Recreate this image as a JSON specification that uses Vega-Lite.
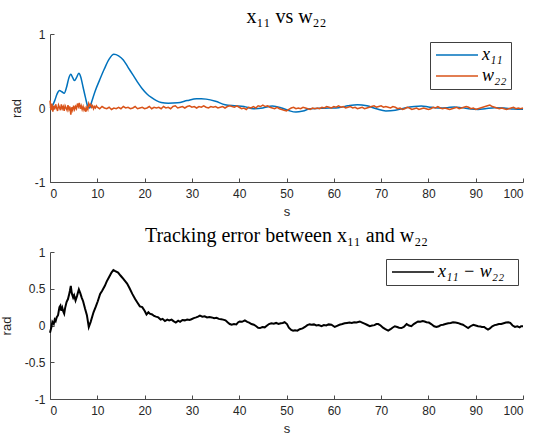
{
  "$schema": "https://vega.github.io/schema/vega-lite/v6.json",
  "background": "white",
  "padding": {"left": 0, "top": 7, "right": 5, "bottom": 0},
  "spacing": 8,
  "config": {
    "view": {"stroke": null},
    "axis": {
      "grid": false,
      "domainColor": "#4a4a4a",
      "domainWidth": 1,
      "tickColor": "#4a4a4a",
      "tickSize": -4,
      "labelColor": "#262626",
      "labelFont": "Liberation Sans",
      "labelFontSize": 12,
      "titleFont": "Liberation Sans",
      "titleFontSize": 13,
      "titleFontWeight": "normal",
      "titleColor": "#262626"
    },
    "axisX": {"labelPadding": 10, "titlePadding": 6},
    "axisY": {"labelPadding": 9, "titlePadding": 11},
    "title": {"font": "Liberation Serif", "fontSize": 20, "fontWeight": "normal", "color": "#000000"},
    "legend": {
      "orient": "none",
      "strokeColor": "#404040",
      "fillColor": "white",
      "padding": 4,
      "symbolType": "M-3,0H3",
      "symbolSize": 196,
      "symbolOffset": 14,
      "labelOffset": 16,
      "symbolStrokeWidth": 1.5,
      "labelFont": "Liberation Serif",
      "labelFontStyle": "italic",
      "labelFontSize": 18,
      "labelColor": "#000000",
      "rowPadding": 3,
      "title": null
    }
  },
  "datasets": {
    "x11": [
      {"t":0,"v":0},{"t":0.5,"v":0.03},{"t":1,"v":0.1},{"t":1.5,"v":0.19},{"t":2,"v":0.235},{"t":2.5,"v":0.22},{"t":3,"v":0.2},{"t":3.5,"v":0.28},{"t":4,"v":0.41},{"t":4.4,"v":0.455},{"t":4.8,"v":0.41},{"t":5.2,"v":0.37},{"t":5.6,"v":0.41},{"t":6.1,"v":0.47},{"t":6.5,"v":0.42},{"t":7,"v":0.28},{"t":7.5,"v":0.14},{"t":8,"v":0.02},{"t":8.4,"v":0.0},{"t":8.8,"v":0.08},{"t":9.5,"v":0.22},{"t":10.5,"v":0.38},{"t":11.5,"v":0.53},{"t":12.5,"v":0.66},{"t":13.5,"v":0.725},{"t":14.5,"v":0.705},{"t":15.5,"v":0.65},{"t":16.5,"v":0.55},{"t":17.5,"v":0.45},{"t":18.5,"v":0.35},{"t":19.5,"v":0.26},{"t":20.5,"v":0.19},{"t":21.5,"v":0.14},{"t":22.5,"v":0.1},{"t":23.5,"v":0.075},{"t":25,"v":0.065},{"t":27,"v":0.07},{"t":29,"v":0.1},{"t":31,"v":0.125},{"t":32,"v":0.126},{"t":33,"v":0.12},{"t":35,"v":0.09},{"t":37,"v":0.045},{"t":39,"v":0.03},{"t":41,"v":0.02},{"t":43,"v":-0.01},{"t":45,"v":0.0},{"t":47,"v":0.027},{"t":49,"v":0.0},{"t":50.5,"v":-0.035},{"t":52,"v":-0.055},{"t":53.5,"v":-0.04},{"t":55,"v":-0.01},{"t":57,"v":-0.005},{"t":59,"v":0.0},{"t":61,"v":0.005},{"t":63,"v":0.03},{"t":65,"v":0.045},{"t":67,"v":0.03},{"t":69,"v":-0.01},{"t":71,"v":-0.04},{"t":73,"v":-0.03},{"t":75,"v":0.0},{"t":77,"v":0.02},{"t":78.5,"v":0.027},{"t":80,"v":0.015},{"t":82,"v":0.0},{"t":84,"v":0.005},{"t":85.5,"v":0.015},{"t":87,"v":0.005},{"t":89,"v":-0.015},{"t":90.5,"v":-0.02},{"t":92,"v":-0.01},{"t":94,"v":0.005},{"t":96,"v":0.0},{"t":98,"v":-0.015},{"t":100,"v":-0.018}
    ],
    "w22": [
      {"t":0,"v":0.1},{"t":0.2,"v":-0.03},{"t":0.4,"v":0.06},{"t":0.6,"v":-0.05},{"t":0.8,"v":0.03},{"t":1,"v":-0.02},{"t":1.2,"v":0.05},{"t":1.4,"v":0.0},{"t":1.6,"v":-0.04},{"t":1.8,"v":0.04},{"t":2,"v":0.01},{"t":2.2,"v":-0.03},{"t":2.4,"v":0.05},{"t":2.6,"v":-0.01},{"t":2.8,"v":0.02},{"t":3,"v":-0.04},{"t":3.2,"v":0.03},{"t":3.4,"v":0.0},{"t":3.6,"v":-0.03},{"t":3.8,"v":0.04},{"t":4,"v":-0.02},{"t":4.2,"v":0.02},{"t":4.4,"v":-0.09},{"t":4.6,"v":0.01},{"t":4.8,"v":-0.03},{"t":5,"v":0.03},{"t":5.2,"v":-0.02},{"t":5.4,"v":0.02},{"t":5.6,"v":-0.01},{"t":5.8,"v":0.06},{"t":6,"v":0.02},{"t":6.2,"v":0.07},{"t":6.4,"v":-0.01},{"t":6.6,"v":0.03},{"t":6.8,"v":-0.02},{"t":7,"v":0.02},{"t":7.2,"v":-0.03},{"t":7.4,"v":0.0},{"t":7.6,"v":-0.05},{"t":7.8,"v":0.01},{"t":8,"v":-0.02},{"t":8.2,"v":0.06},{"t":8.4,"v":0.03},{"t":8.6,"v":0.05},{"t":8.8,"v":0.01},{"t":9,"v":0.03},{"t":9.2,"v":-0.01},{"t":9.4,"v":0.02},{"t":9.6,"v":0.0},{"t":9.8,"v":0.03},
      {"t":10,"v":0.01},{"t":10.5,"v":-0.01},{"t":11,"v":0.02},{"t":11.5,"v":0.0},{"t":12,"v":-0.01},{"t":12.5,"v":0.01},{"t":13,"v":-0.02},{"t":13.5,"v":0.0},{"t":14,"v":-0.01},{"t":14.5,"v":0.01},{"t":15,"v":-0.01},{"t":15.5,"v":0.02},{"t":16,"v":0.0},{"t":16.5,"v":0.01},{"t":17,"v":-0.01},{"t":17.5,"v":0.0},{"t":18,"v":0.02},{"t":18.5,"v":-0.01},{"t":19,"v":0.0},{"t":19.5,"v":0.01},{"t":20,"v":-0.01},{"t":20.5,"v":0.0},{"t":21,"v":0.02},{"t":21.5,"v":-0.01},{"t":22,"v":0.01},{"t":22.5,"v":0.0},{"t":23,"v":0.01},{"t":23.5,"v":-0.01},{"t":24,"v":0.02},{"t":24.5,"v":0.0},{"t":25,"v":0.01},{"t":25.5,"v":-0.01},{"t":26,"v":0.02},{"t":26.5,"v":0.03},{"t":27,"v":0.0},{"t":27.5,"v":0.01},{"t":28,"v":0.02},{"t":28.5,"v":0.0},{"t":29,"v":0.02},{"t":29.5,"v":0.03},{"t":30,"v":0.01},{"t":30.5,"v":0.02},{"t":31,"v":0.0},{"t":31.5,"v":0.02},{"t":32,"v":0.01},{"t":32.5,"v":0.03},{"t":33,"v":0.01},{"t":33.5,"v":0.0},{"t":34,"v":0.02},{"t":34.5,"v":0.01},{"t":35,"v":0.02},{"t":35.5,"v":0.0},{"t":36,"v":0.01},{"t":36.5,"v":0.02},{"t":37,"v":0.0},{"t":37.5,"v":0.02},{"t":38,"v":0.03},{"t":38.5,"v":0.02},{"t":39,"v":0.01},{"t":39.5,"v":0.03},{"t":40,"v":0.01},{"t":40.5,"v":-0.01},{"t":41,"v":0.0},{"t":41.5,"v":-0.02},{"t":42,"v":0.01},{"t":42.5,"v":0.0},{"t":43,"v":0.02},{"t":43.5,"v":0.0},{"t":44,"v":0.03},{"t":44.5,"v":0.02},{"t":45,"v":0.04},{"t":45.5,"v":0.02},{"t":46,"v":0.03},{"t":46.5,"v":0.01},{"t":47,"v":0.0},{"t":47.5,"v":-0.01},{"t":48,"v":0.01},{"t":48.5,"v":-0.01},{"t":49,"v":-0.02},{"t":49.5,"v":-0.03},{"t":50,"v":-0.04},{"t":50.5,"v":-0.02},{"t":51,"v":0.0},{"t":51.5,"v":0.01},{"t":52,"v":-0.01},{"t":52.5,"v":0.0},{"t":53,"v":-0.01},{"t":53.5,"v":0.01},{"t":54,"v":0.0},{"t":54.5,"v":-0.01},{"t":55,"v":-0.02},{"t":55.5,"v":0.0},{"t":56,"v":-0.01},{"t":56.5,"v":0.0},{"t":57,"v":-0.01},{"t":57.5,"v":0.01},{"t":58,"v":0.0},{"t":58.5,"v":0.02},{"t":59,"v":0.01},{"t":59.5,"v":0.0},{"t":60,"v":0.02},{"t":60.5,"v":0.01},{"t":61,"v":0.03},{"t":61.5,"v":0.01},{"t":62,"v":0.02},{"t":62.5,"v":0.0},{"t":63,"v":0.01},{"t":63.5,"v":0.02},{"t":64,"v":0.0},{"t":64.5,"v":0.01},{"t":65,"v":-0.01},{"t":65.5,"v":0.0},{"t":66,"v":0.01},{"t":66.5,"v":-0.01},{"t":67,"v":0.0},{"t":67.5,"v":0.01},{"t":68,"v":0.02},{"t":68.5,"v":0.03},{"t":69,"v":0.01},{"t":69.5,"v":0.02},{"t":70,"v":0.03},{"t":70.5,"v":0.01},{"t":71,"v":0.02},{"t":71.5,"v":0.01},{"t":72,"v":0.0},{"t":72.5,"v":0.02},{"t":73,"v":0.01},{"t":73.5,"v":-0.01},{"t":74,"v":0.0},{"t":74.5,"v":-0.02},{"t":75,"v":-0.01},{"t":75.5,"v":0.01},{"t":76,"v":0.0},{"t":76.5,"v":-0.02},{"t":77,"v":-0.01},{"t":77.5,"v":0.0},{"t":78,"v":-0.02},{"t":78.5,"v":-0.01},{"t":79,"v":0.0},{"t":79.5,"v":-0.01},{"t":80,"v":-0.02},{"t":80.5,"v":-0.01},{"t":81,"v":0.01},{"t":81.5,"v":0.0},{"t":82,"v":0.02},{"t":82.5,"v":0.0},{"t":83,"v":-0.01},{"t":83.5,"v":0.0},{"t":84,"v":-0.01},{"t":84.5,"v":-0.02},{"t":85,"v":-0.01},{"t":85.5,"v":0.0},{"t":86,"v":0.01},{"t":86.5,"v":-0.01},{"t":87,"v":0.0},{"t":87.5,"v":0.01},{"t":88,"v":0.02},{"t":88.5,"v":0.01},{"t":89,"v":-0.01},{"t":89.5,"v":0.0},{"t":90,"v":-0.02},{"t":90.5,"v":-0.01},{"t":91,"v":0.0},{"t":91.5,"v":0.01},{"t":92,"v":0.02},{"t":92.5,"v":0.03},{"t":93,"v":0.04},{"t":93.5,"v":0.02},{"t":94,"v":0.01},{"t":94.5,"v":0.0},{"t":95,"v":-0.01},{"t":95.5,"v":0.0},{"t":96,"v":-0.01},{"t":96.5,"v":-0.02},{"t":97,"v":-0.01},{"t":97.5,"v":0.0},{"t":98,"v":0.01},{"t":98.5,"v":-0.01},{"t":99,"v":0.0},{"t":99.5,"v":-0.01},{"t":100,"v":0.0}
    ],
    "err": [
      {"t":0,"v":-0.1},{"t":0.3,"v":-0.02},{"t":0.5,"v":0.05},{"t":0.8,"v":0.02},{"t":1.0,"v":0.08},{"t":1.2,"v":0.06},{"t":1.4,"v":0.11},{"t":1.7,"v":0.14},{"t":2.0,"v":0.25},{"t":2.2,"v":0.27},{"t":2.4,"v":0.2},{"t":2.6,"v":0.24},{"t":2.8,"v":0.19},{"t":3.0,"v":0.16},{"t":3.2,"v":0.24},{"t":3.5,"v":0.32},{"t":3.8,"v":0.36},{"t":4.0,"v":0.41},{"t":4.2,"v":0.47},{"t":4.4,"v":0.54},{"t":4.6,"v":0.44},{"t":4.9,"v":0.38},{"t":5.1,"v":0.41},{"t":5.4,"v":0.34},{"t":5.7,"v":0.4},{"t":6.1,"v":0.49},{"t":6.4,"v":0.44},{"t":6.7,"v":0.38},{"t":7.0,"v":0.33},{"t":7.4,"v":0.23},{"t":7.8,"v":0.14},{"t":8.2,"v":-0.02},{"t":8.6,"v":0.05},{"t":9.2,"v":0.18},{"t":9.7,"v":0.26},{"t":10.1,"v":0.33},{"t":10.6,"v":0.43},{"t":11.0,"v":0.47},{"t":11.6,"v":0.54},{"t":12.0,"v":0.6},{"t":12.5,"v":0.66},{"t":13.0,"v":0.72},{"t":13.4,"v":0.755},{"t":13.8,"v":0.74},{"t":14.4,"v":0.72},{"t":14.9,"v":0.68},{"t":15.3,"v":0.65},{"t":15.8,"v":0.61},{"t":16.3,"v":0.57},{"t":16.8,"v":0.51},{"t":17.4,"v":0.43},{"t":18.0,"v":0.36},{"t":18.5,"v":0.31},{"t":19.0,"v":0.26},{"t":19.5,"v":0.25},{"t":20.0,"v":0.2},{"t":20.4,"v":0.15},{"t":20.8,"v":0.18},{"t":21.1,"v":0.16},{"t":21.6,"v":0.15},{"t":22.0,"v":0.13},{"t":22.4,"v":0.12},{"t":22.9,"v":0.11},{"t":23.4,"v":0.08},{"t":23.8,"v":0.09},{"t":24.3,"v":0.06},{"t":24.8,"v":0.08},{"t":25.2,"v":0.07},{"t":25.7,"v":0.08},{"t":26.1,"v":0.06},{"t":26.6,"v":0.04},{"t":27.1,"v":0.065},{"t":27.5,"v":0.05},{"t":28.0,"v":0.075},{"t":28.5,"v":0.07},{"t":29.0,"v":0.08},{"t":29.5,"v":0.075},{"t":29.9,"v":0.085},{"t":30.4,"v":0.1},{"t":30.9,"v":0.11},{"t":31.3,"v":0.12},{"t":31.7,"v":0.135},{"t":32.2,"v":0.12},{"t":32.7,"v":0.125},{"t":33.2,"v":0.11},{"t":33.7,"v":0.115},{"t":34.2,"v":0.11},{"t":34.7,"v":0.1},{"t":35.2,"v":0.105},{"t":35.7,"v":0.09},{"t":36.2,"v":0.085},{"t":36.6,"v":0.08},{"t":37.1,"v":0.07},{"t":37.6,"v":0.04},{"t":38.0,"v":0.02},{"t":38.4,"v":0.01},{"t":38.9,"v":0.02},{"t":39.4,"v":0.015},{"t":39.8,"v":0.045},{"t":40.1,"v":0.055},{"t":40.6,"v":0.05},{"t":41.2,"v":0.07},{"t":41.7,"v":0.05},{"t":42.1,"v":0.04},{"t":42.6,"v":0.02},{"t":43.1,"v":0.01},{"t":43.6,"v":-0.01},{"t":44.0,"v":-0.03},{"t":44.4,"v":-0.035},{"t":44.9,"v":-0.02},{"t":45.4,"v":-0.025},{"t":45.9,"v":0.0},{"t":46.3,"v":0.02},{"t":46.8,"v":0.03},{"t":47.3,"v":0.025},{"t":47.8,"v":0.035},{"t":48.3,"v":0.02},{"t":48.8,"v":0.03},{"t":49.2,"v":0.035},{"t":49.6,"v":0.045},{"t":50.1,"v":0.02},{"t":50.5,"v":-0.03},{"t":51.0,"v":-0.06},{"t":51.4,"v":-0.07},{"t":51.8,"v":-0.065},{"t":52.3,"v":-0.07},{"t":52.8,"v":-0.05},{"t":53.4,"v":-0.04},{"t":53.9,"v":-0.02},{"t":54.4,"v":0.005},{"t":54.9,"v":0.015},{"t":55.3,"v":0.01},{"t":55.8,"v":0.015},{"t":56.3,"v":0.0},{"t":56.8,"v":0.005},{"t":57.4,"v":-0.01},{"t":57.9,"v":0.005},{"t":58.4,"v":0.0},{"t":58.9,"v":0.015},{"t":59.5,"v":0.01},{"t":60.2,"v":-0.02},{"t":60.7,"v":-0.005},{"t":61.2,"v":0.01},{"t":61.8,"v":0.02},{"t":62.3,"v":0.03},{"t":62.8,"v":0.035},{"t":63.3,"v":0.04},{"t":63.8,"v":0.035},{"t":64.3,"v":0.045},{"t":64.8,"v":0.04},{"t":65.5,"v":0.055},{"t":66.0,"v":0.04},{"t":66.5,"v":0.025},{"t":67.0,"v":0.01},{"t":67.6,"v":-0.01},{"t":68.1,"v":0.0},{"t":68.6,"v":0.005},{"t":69.0,"v":0.02},{"t":69.4,"v":0.02},{"t":69.9,"v":0.0},{"t":70.4,"v":-0.03},{"t":70.9,"v":-0.05},{"t":71.5,"v":-0.07},{"t":72.0,"v":-0.05},{"t":72.4,"v":-0.03},{"t":72.9,"v":-0.01},{"t":73.4,"v":-0.02},{"t":73.8,"v":-0.03},{"t":74.3,"v":-0.035},{"t":74.8,"v":-0.02},{"t":75.4,"v":0.02},{"t":75.9,"v":0.0},{"t":76.4,"v":-0.01},{"t":76.9,"v":0.02},{"t":77.4,"v":0.04},{"t":77.8,"v":0.055},{"t":78.3,"v":0.05},{"t":78.8,"v":0.06},{"t":79.2,"v":0.055},{"t":79.6,"v":0.045},{"t":80.1,"v":0.04},{"t":80.6,"v":0.02},{"t":81.2,"v":-0.01},{"t":81.7,"v":-0.02},{"t":82.2,"v":-0.01},{"t":82.6,"v":0.005},{"t":83.1,"v":0.01},{"t":83.6,"v":0.02},{"t":84.2,"v":0.03},{"t":84.7,"v":0.035},{"t":85.2,"v":0.045},{"t":85.7,"v":0.04},{"t":86.2,"v":0.035},{"t":86.8,"v":0.02},{"t":87.3,"v":0.01},{"t":87.8,"v":-0.01},{"t":88.4,"v":-0.035},{"t":88.9,"v":-0.01},{"t":89.5,"v":0.01},{"t":90.0,"v":0.0},{"t":90.5,"v":-0.01},{"t":91.0,"v":-0.015},{"t":91.3,"v":-0.02},{"t":91.8,"v":-0.02},{"t":92.2,"v":-0.04},{"t":92.6,"v":-0.055},{"t":93.0,"v":-0.04},{"t":93.5,"v":-0.01},{"t":94.0,"v":0.005},{"t":94.4,"v":0.01},{"t":94.9,"v":0.02},{"t":95.4,"v":0.02},{"t":95.9,"v":0.03},{"t":96.4,"v":0.04},{"t":96.9,"v":0.045},{"t":97.3,"v":0.035},{"t":97.8,"v":0.0},{"t":98.3,"v":-0.02},{"t":98.8,"v":-0.01},{"t":99.3,"v":-0.025},{"t":99.6,"v":-0.01},{"t":100,"v":-0.01}
    ]
  },
  "vconcat": [
    {
      "width": 473,
      "height": 148,
      "title": {"text": "x₁₁ vs w₂₂", "offset": 1},
      "layer": [
        {
          "data": {"name": "x11"},
          "mark": {"type": "line", "strokeWidth": 1.5, "interpolate": "monotone"},
          "encoding": {
            "x": {"field": "t", "type": "quantitative"},
            "y": {"field": "v", "type": "quantitative"},
            "color": {"datum": "x₁₁"}
          }
        },
        {
          "data": {"name": "w22"},
          "mark": {"type": "line", "strokeWidth": 1.5},
          "encoding": {
            "x": {"field": "t", "type": "quantitative", "scale": {"domain": [0, 100], "nice": false},
              "axis": {"title": "s", "values": [0,10,20,30,40,50,60,70,80,90,100]}},
            "y": {"field": "v", "type": "quantitative", "scale": {"domain": [-1, 1], "nice": false},
              "axis": {"title": "rad", "values": [-1,-0.5,0,0.5,1],
                "labelExpr": "replace(format(datum.value, '~g'), '−', '-')"}},
            "color": {"datum": "w₂₂", "type": "nominal",
              "scale": {"domain": ["x₁₁", "w₂₂"], "range": ["#0072BD", "#D95319"]},
              "legend": {"legendX": 380, "legendY": 8}}
          }
        }
      ]
    },
    {
      "width": 473,
      "height": 147,
      "title": {"text": "Tracking error between x₁₁ and w₂₂", "offset": 0},
      "data": {"name": "err"},
      "mark": {"type": "line", "strokeWidth": 2},
      "encoding": {
        "x": {"field": "t", "type": "quantitative", "scale": {"domain": [0, 100], "nice": false},
          "axis": {"title": "s", "values": [0,10,20,30,40,50,60,70,80,90,100]}},
        "y": {"field": "v", "type": "quantitative", "scale": {"domain": [-1, 1], "nice": false},
          "axis": {"title": "rad", "values": [-1,-0.5,0,0.5,1],
            "labelExpr": "replace(format(datum.value, '~g'), '−', '-')"}},
        "color": {"datum": "x₁₁  −  w₂₂", "type": "nominal",
          "scale": {"domain": ["x₁₁  −  w₂₂"], "range": ["#000000"]},
          "legend": {"legendX": 336, "legendY": 7}}
      }
    }
  ],
  "resolve": {"scale": {"color": "independent"}, "legend": {"color": "independent"}}
}
